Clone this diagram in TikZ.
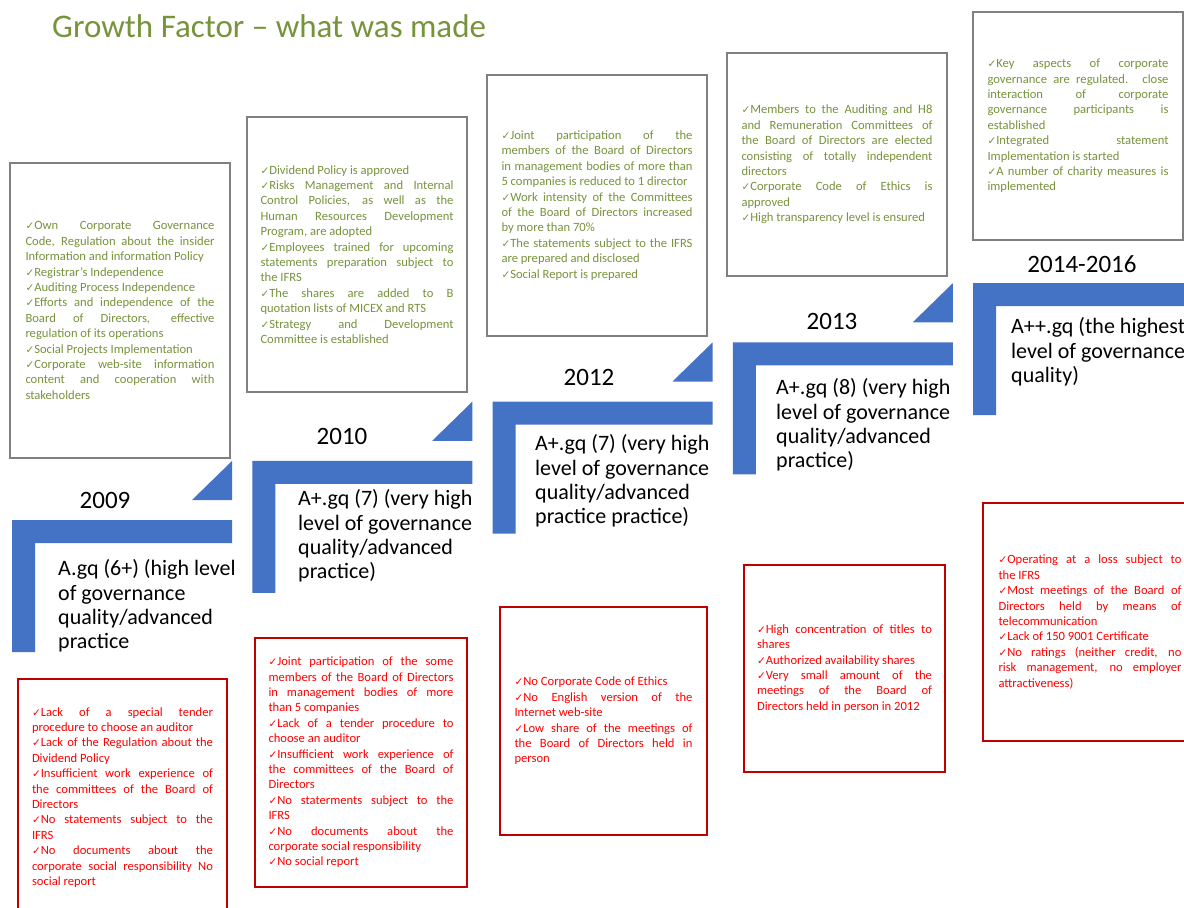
\documentclass[tikz,border=0pt]{standalone}
\usepackage{fontspec}
\setmainfont{Carlito}
\newfontfamily\dejavu{DejaVu Sans}
\definecolor{stepblue}{HTML}{4472C4}
\definecolor{tgreen}{HTML}{77933C}
\definecolor{boxgray}{HTML}{808080}
\definecolor{bred}{HTML}{C00000}
\definecolor{tred}{HTML}{FF0000}
\newcommand\ck{{\dejavu\fontsize{10.5}{10}\selectfont ✓}}
\newcommand\smalltxt{\fontsize{12.6}{15.4}\selectfont\tolerance=10000\hbadness=10000\parindent=0pt\parskip=0pt}
\tikzset{
  gbox/.style={draw=boxgray, line width=1.5pt, fill=white, align=justify, font=\smalltxt, text=tgreen, inner ysep=0pt},
  rbox/.style={draw=bred, line width=1.5pt, fill=white, align=justify, font=\smalltxt, text=tred, inner ysep=0pt},
  desc/.style={anchor=west, align=left, inner sep=0pt, font=\fontsize{22}{24.3}\selectfont, text=black},
  year/.style={inner sep=0pt, font=\fontsize{25}{28}\selectfont, text=black},
}
\begin{document}
\begin{tikzpicture}[x=1pt,y=-1pt]
\clip (0,0) rectangle (1184,908);
\fill[white] (0,0) rectangle (1184,908);
% title
\node[anchor=west, inner sep=0pt, font=\fontsize{33}{36}\selectfont, text=tgreen] (title) at (52,26) {Growth Factor – what was made};
% steps
\foreach \k in {0,...,4}{
  \pgfmathsetmacro\xa{12+240.25*\k}
  \pgfmathsetmacro\ya{520-59.25*\k}
  \fill[stepblue] (\xa,\ya) -- ++(220,0) -- ++(0,23) -- ++(-197,0) -- ++(0,109) -- ++(-23,0) -- cycle;
}
\foreach \k in {0,...,3}{
  \pgfmathsetmacro\xr{232+240.25*\k}
  \pgfmathsetmacro\yb{500-59.25*\k}
  \fill[stepblue] (\xr-40,\yb) -- (\xr,\yb) -- (\xr,\yb-39) -- cycle;
}
% years
\node[year] (y1) at (105,500) {2009};
\node[year] (y2) at (342,436) {2010};
\node[year] (y3) at (589,377) {2012};
\node[year] (y4) at (832,321) {2013};
\node[year] (y5) at (1082,264) {2014-2016};
% descriptions
\node[desc] (d1) at (58,606) {A.gq (6+) (high level\\of governance\\quality/advanced\\practice};
\node[desc] (d2) at (298,536) {A+.gq (7) (very high\\level of governance\\quality/advanced\\practice)};
\node[desc] (d3) at (535,481) {A+.gq (7) (very high\\level of governance\\quality/advanced\\practice practice)};
\node[desc] (d4) at (776,425) {A+.gq (8) (very high\\level of governance\\quality/advanced\\practice)};
\node[desc] (d5) at (1011,352) {A++.gq (the highest\\level of governance\\quality)};
% green boxes
\node[gbox, minimum width=220pt, minimum height=295pt, text width=189pt] (b1) at (120,310.5) {\ck Own Corporate Governance \linebreak Code, Regulation about the insider \linebreak Information and information Policy\par
\ck Registrar's Independence\par
\ck Auditing Process Independence\par
\ck Efforts and independence of the \linebreak Board of Directors, effective \linebreak regulation of its operations\par
\ck Social Projects Implementation\par
\ck Corporate web-site information \linebreak content and cooperation with \linebreak stakeholders};
\node[gbox, minimum width=220pt, minimum height=275pt, text width=193pt] (b2) at (357,254.5) {\ck Dividend Policy is approved\par
\ck Risks Management and Internal \linebreak Control Policies, as well as the \linebreak Human Resources Development \linebreak Program, are adopted\par
\ck Employees trained for upcoming \linebreak statements preparation subject to \linebreak the IFRS\par
\ck The shares are added to B \linebreak quotation lists of MICEX and RTS\par
\ck Strategy and Development \linebreak Committee is established};
\node[gbox, minimum width=220pt, minimum height=261pt, text width=191pt] (b3) at (597,205.5) {\ck Joint participation of the \linebreak members of the Board of Directors \linebreak in management bodies of more than \linebreak 5 companies is reduced to 1 director\par
\ck Work intensity of the Committees \linebreak of the Board of Directors increased \linebreak by more than 70\%\par
\ck The statements subject to the IFRS \linebreak are prepared and disclosed\par
\ck Social Report is prepared};
\node[gbox, minimum width=220pt, minimum height=223pt, text width=191pt] (b4) at (837,164.5) {\ck Members to the Auditing and H8 \linebreak and Remuneration Committees of \linebreak the Board of Directors are elected \linebreak consisting of totally independent \linebreak directors\par
\ck Corporate Code of Ethics is \linebreak approved\par
\ck High transparency level is ensured};
\node[gbox, minimum width=210pt, minimum height=228pt, text width=181pt] (b5) at (1078,126) {\ck Key aspects of corporate \linebreak governance are regulated. close \linebreak interaction of corporate \linebreak governance participants is \linebreak established\par
\ck Integrated statement \linebreak Implementation is started\par
\ck A number of charity measures is \linebreak implemented};
% red boxes
\node[rbox, minimum width=209pt, minimum height=237pt, text width=181pt] (r1) at (122.5,797.5) {\ck Lack of a special tender \linebreak procedure to choose an auditor\par
\ck Lack of the Regulation about the \linebreak Dividend Policy\par
\ck Insufficient work experience of \linebreak the committees of the Board of \linebreak Directors\par
\ck No statements subject to the \linebreak IFRS\par
\ck No documents about the \linebreak corporate social responsibility No \linebreak social report};
\node[rbox, minimum width=212pt, minimum height=249pt, text width=185pt] (r2) at (361,762.5) {\ck Joint participation of the some \linebreak members of the Board of Directors \linebreak in management bodies of more \linebreak than 5 companies\par
\ck Lack of a tender procedure to \linebreak choose an auditor\par
\ck Insufficient work experience of \linebreak the committees of the Board of \linebreak Directors\par
\ck No staterments subject to the \linebreak IFRS\par
\ck No documents about the \linebreak corporate social responsibility\par
\ck No social report};
\node[rbox, minimum width=207pt, minimum height=228pt, text width=178pt] (r3) at (603.5,721) {\ck No Corporate Code of Ethics\par
\ck No English version of the \linebreak Internet web-site\par
\ck Low share of the meetings of \linebreak the Board of Directors held in \linebreak person};
\node[rbox, minimum width=201pt, minimum height=207pt, text width=175pt] (r4) at (844.5,668.5) {\ck High concentration of titles to \linebreak shares\par
\ck Authorized availability shares\par
\ck Very small amount of the \linebreak meetings of the Board of \linebreak Directors held in person in 2012};
\node[rbox, minimum width=214pt, minimum height=238pt, text width=183pt] (r5) at (1090,622) {\ck Operating at a loss subject to \linebreak the IFRS\par
\ck Most meetings of the Board of \linebreak Directors held by means of \linebreak telecommunication\par
\ck Lack of 150 9001 Certificate\par
\ck No ratings (neither credit, no \linebreak risk management, no employer \linebreak attractiveness)};
\end{tikzpicture}
\end{document}
